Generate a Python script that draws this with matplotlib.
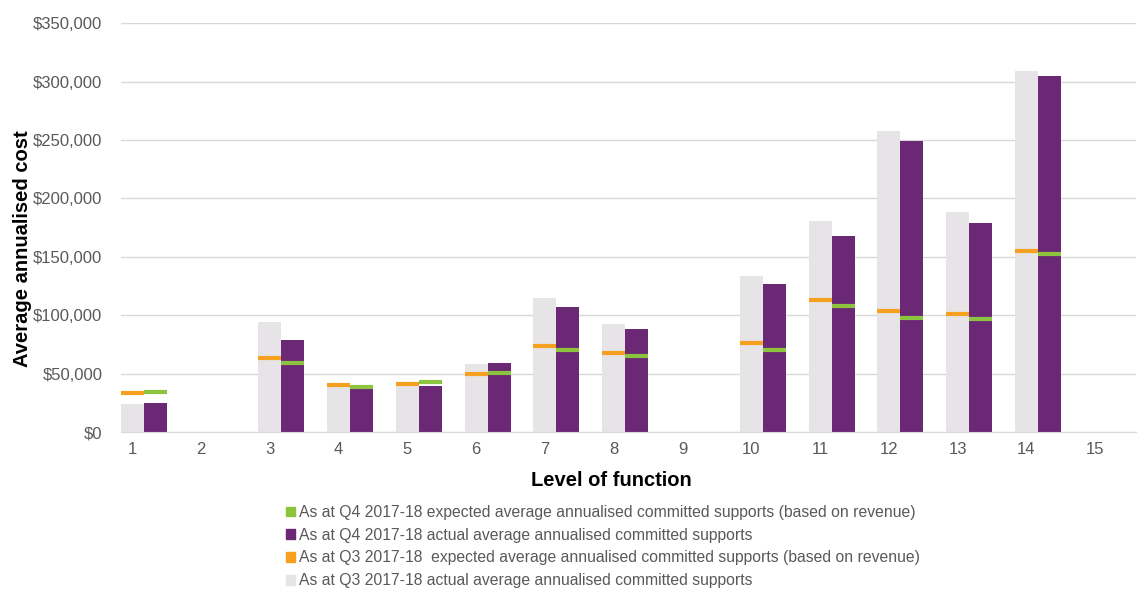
import matplotlib.pyplot as plt
import numpy as np
from matplotlib.patches import Patch

plt.rcParams['font.family'] = ['Liberation Sans', 'DejaVu Sans']

levels = list(range(1, 16))
# values in dollars, NaN where no participants
q3_actual = [23700, np.nan, 94000, 38500, 40000, 58500, 114500, 92500, np.nan, 133600, 180700, 258000, 188000, 309300, np.nan]
q3_expected = [33400, np.nan, 63000, 40000, 41500, 49700, 73900, 67400, np.nan, 75900, 112700, 103900, 101000, 154700, np.nan]
q4_actual = [24600, np.nan, 78800, 36800, 39600, 58800, 107300, 88500, np.nan, 126400, 168000, 248900, 178700, 304500, np.nan]
q4_expected = [34000, np.nan, 59000, 39000, 42500, 50500, 70200, 65300, np.nan, 70200, 107600, 97900, 97000, 152100, np.nan]

lbl_q4_exp = "As at Q4 2017-18 expected average annualised committed supports (based on revenue)"
lbl_q4_act = "As at Q4 2017-18 actual average annualised committed supports"
lbl_q3_exp = "As at Q3 2017-18  expected average annualised committed supports (based on revenue)"
lbl_q3_act = "As at Q3 2017-18 actual average annualised committed supports"

c_grey = "#E6E4E6"
c_purple = "#6B2875"
c_orange = "#F5A01E"
c_green = "#8CC43F"

fig = plt.figure(figsize=(11.39, 6.06), dpi=100)
ax = fig.add_axes([0.1058, 0.287, 0.892, 0.6747])

x = np.array(levels, dtype=float)
w = 0.335

ax.bar(x, q3_actual, width=w, color=c_grey, zorder=2)
ax.bar(x + w, q4_actual, width=w, color=c_purple, zorder=2)
ax.hlines(q3_expected, x - w / 2, x + w / 2, colors=c_orange, linewidth=3, zorder=3)
ax.hlines(q4_expected, x + w / 2, x + 1.5 * w, colors=c_green, linewidth=3, zorder=3)

ax.set_xlim(0.83, 15.6)
ax.set_ylim(0, 350000)
ax.set_xticks(x)
ax.set_xticklabels([str(v) for v in levels])
yt = np.arange(0, 350001, 50000)
ax.set_yticks(yt)
ax.set_yticklabels(["${:,.0f}".format(v) for v in yt])
ax.tick_params(axis="both", length=0, labelsize=12, labelcolor="#595959")
ax.tick_params(axis="y", pad=13)
ax.tick_params(axis="x", pad=7)
ax.grid(axis="y", color="#D9D9D9", linewidth=1, zorder=0)
for s in ["top", "right", "left"]:
    ax.spines[s].set_visible(False)
ax.spines["bottom"].set_color("#D9D9D9")
ax.set_axisbelow(True)

ax.set_xlabel("Level of function", fontsize=14.5, fontweight="bold")
ax.xaxis.set_label_coords(0.483, -0.094)
fig.text(0.02, 0.59, "Average annualised cost", rotation=90, fontsize=14.5,
         fontweight="bold", ha="center", va="center")

# legend
handles = [Patch(color=c_green), Patch(color=c_purple), Patch(color=c_orange), Patch(color=c_grey)]
labels = [lbl_q4_exp, lbl_q4_act, lbl_q3_exp, lbl_q3_act]
fig.legend(handles, labels, loc="upper left", bbox_to_anchor=(0.251, 0.167), frameon=False,
           fontsize=11.3, labelcolor="#595959", handlelength=0.55, handleheight=0.55,
           handletextpad=0.3, labelspacing=0.5, borderaxespad=0, borderpad=0)

fig.savefig("out.png", dpi=100)
